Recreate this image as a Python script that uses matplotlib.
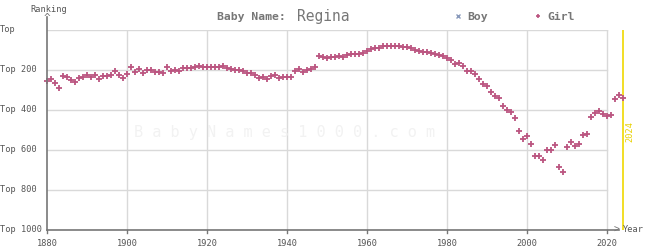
import numpy as np
import matplotlib
matplotlib.use("Agg")
import matplotlib.pyplot as plt

# girl ranking for "Regina", one value per year 1880-2024
years = list(range(1880, 2025))
girl_rank = [
    257, 247, 267, 292, 230, 237, 252, 262, 242, 237,   # 1880s
    227, 237, 227, 247, 232, 232, 227, 207, 227, 242,   # 1890s
    222, 185, 212, 197, 217, 202, 202, 212, 212, 217,   # 1900s
    187, 207, 202, 207, 192, 192, 192, 187, 182, 187,   # 1910s
    187, 187, 187, 187, 182, 192, 197, 202, 202, 207,   # 1920s
    217, 217, 227, 242, 237, 247, 232, 227, 242, 237,   # 1930s
    237, 237, 207, 197, 212, 202, 197, 187, 132, 137,   # 1940s
    142, 137, 137, 132, 137, 127, 122, 122, 122, 117,   # 1950s
    107, 97, 92, 92, 82, 82, 82, 82, 82, 87,            # 1960s
    87, 92, 102, 107, 112, 112, 117, 122, 127, 132,     # 1970s
    142, 152, 172, 167, 182, 207, 207, 222, 247, 272,   # 1980s
    282, 312, 332, 342, 382, 402, 412, 442, 507, 547,   # 1990s
    532, 572, 632, 632, 652, 602, 602, 577, 687, 712,   # 2000s
    587, 562, 582, 572, 527, 522, 437, 417, 407, 422,   # 2010s
    432, 427, 347, 327, 342,                            # 2020s
]
x_ticks = [1880, 1900, 1920, 1940, 1960, 1980, 2000, 2020]
y_ticks = [0, 200, 400, 600, 800, 1000]
y_labels = ["Top", "Top 200", "Top 400", "Top 600", "Top 800", "Top 1000"]
current_year = 2024

W, H = 645, 250
fig = plt.figure(figsize=(W / 100, H / 100), dpi=100)
fig.patch.set_facecolor("white")

# plot area: x 47..627 px (4 px per year), y 30..230 px
ax = fig.add_axes([47 / W, 20 / H, 580 / W, 200 / H])
ax.set_xlim(1880, 2025)
ax.set_ylim(1000, 0)
ax.set_facecolor("none")

mono = "DejaVu Sans Mono"
grid_c = "#d9d9d9"
axis_c = "#777777"
text_c = "#555555"

for y in y_ticks:
    ax.plot([1880, 2020], [y, y], color=grid_c, lw=1.0, zorder=1)
for x in x_ticks[1:]:
    ax.plot([x, x], [0, 1000], color=grid_c, lw=1.0, zorder=1)

for s in ["top", "right", "left", "bottom"]:
    ax.spines[s].set_visible(False)
ax.set_xticks([])
ax.set_yticks([])

# axes lines with arrow heads
fig.add_artist(plt.Line2D([47 / W, 47 / W], [20 / H, 233 / H], color=axis_c, lw=1.2))
fig.add_artist(plt.Line2D([47 / W, 619 / W], [20 / H, 20 / H], color=axis_c, lw=1.2))
fig.text(47 / W, 232 / H, "^", color=axis_c, fontsize=8, family=mono, ha="center", va="center")
fig.text(617 / W, 20 / H, ">", color=axis_c, fontsize=7, family=mono, ha="center", va="center")
fig.text(49 / W, 241 / H, "Ranking", color=text_c, fontsize=6.2, family=mono, ha="center", va="center")
fig.text(623 / W, 20 / H, "Year", color=text_c, fontsize=6.2, family=mono, ha="left", va="center")

# tick labels
for y, lab in zip(y_ticks, y_labels):
    fig.text(0, (220 - y * 0.2) / H, lab, color=text_c, fontsize=6.2, family=mono, ha="left", va="center")
for x in x_ticks:
    fig.text((47 + (x - 1880) * 4) / W, 7 / H, str(x), color=text_c, fontsize=6.2, family=mono,
             ha="center", va="center")
    fig.add_artist(plt.Line2D([(47 + (x - 1880) * 4) / W] * 2, [17 / H, 20 / H], color=axis_c, lw=1))

# watermark
fig.text(285 / W, 118 / H, " ".join("BabyNames1000.com"), color="#f2f2f2", fontsize=11,
         family=mono, ha="center", va="center", zorder=0)

# current year marker
ax.plot([current_year, current_year], [0, 1000], color="#f0d800", lw=1.2, zorder=2)
fig.text(630 / W, 118 / H, str(current_year), color="#e8d000", fontsize=6.2, family=mono,
         rotation=90, ha="center", va="center")

ax.plot(years, girl_rank, linestyle="none", marker="+", color="#bb5580",
        markersize=4, markeredgewidth=1.3, zorder=3, clip_on=False)

# title and legend
fig.text(217 / W, 233 / H, "Baby Name:", color="#777777", fontsize=8.2, family=mono,
         fontweight="bold", ha="left", va="center")
fig.text(297 / W, 233 / H, "Regina", color="#777777", fontsize=10.5, family=mono,
         ha="left", va="center")
fig.lines.append(plt.Line2D([458 / W], [234 / H], transform=fig.transFigure, figure=fig,
                            marker="x", color="#8899bb", markersize=3, markeredgewidth=1,
                            linestyle="none"))
fig.text(467 / W, 233 / H, "Boy", color="#777777", fontsize=8.2, family=mono,
         fontweight="bold", ha="left", va="center")
fig.lines.append(plt.Line2D([538 / W], [234 / H], transform=fig.transFigure, figure=fig,
                            marker="+", color="#bb5580", markersize=3.5, markeredgewidth=1.2,
                            linestyle="none"))
fig.text(547 / W, 233 / H, "Girl", color="#777777", fontsize=8.2, family=mono,
         fontweight="bold", ha="left", va="center")

fig.savefig("out.png", dpi=100)
